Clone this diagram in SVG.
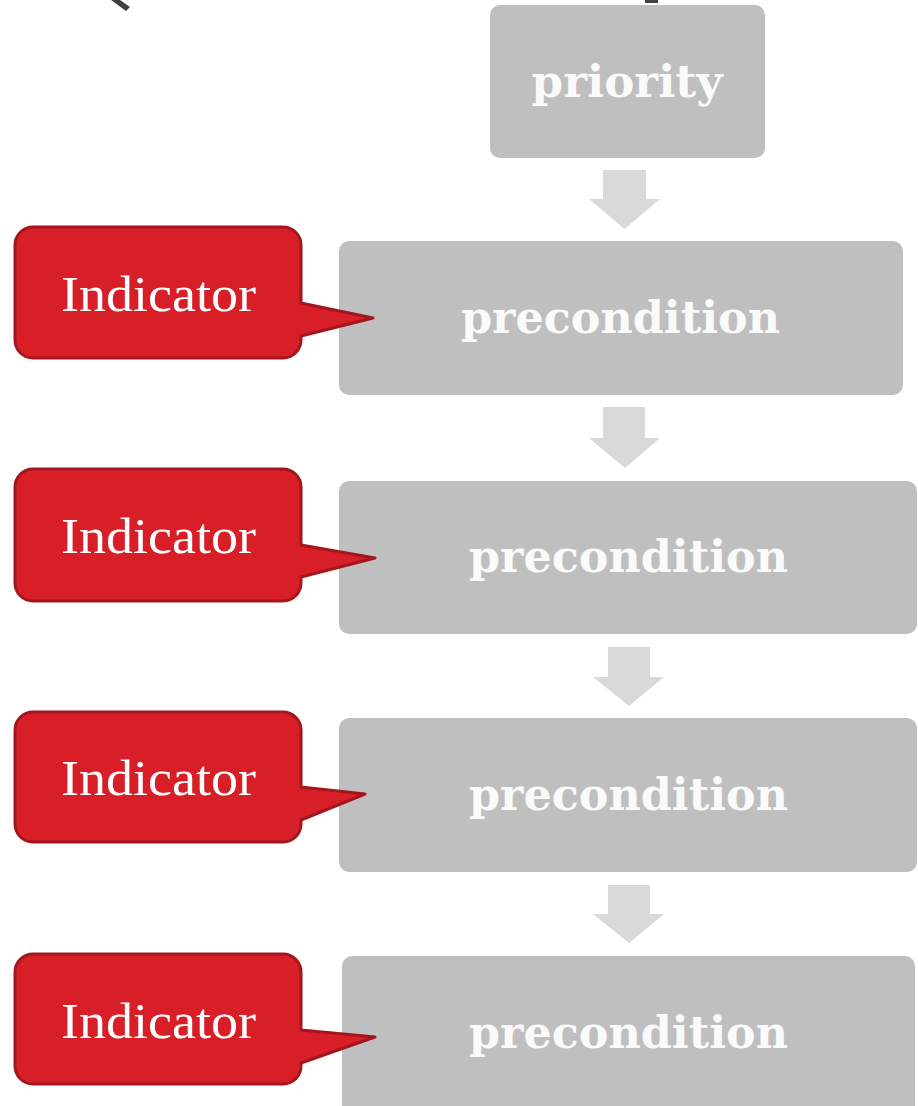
<svg xmlns="http://www.w3.org/2000/svg" width="918" height="1106" viewBox="0 0 918 1106">
  <style>
    .box { fill: #BFBFBF; }
    .arrow { fill: #D9D9D9; }
    .callout { fill: #D81F28; stroke: #A3161D; stroke-width: 3; stroke-linejoin: round; }
    .title { font-family: "DejaVu Serif", "Liberation Serif", serif; font-weight: bold; font-size: 45px; fill: #FAFAFA; text-anchor: middle; }
    .ind { font-family: "Liberation Serif", "DejaVu Serif", serif; font-size: 50px; fill: #FFFFFF; text-anchor: middle; }
    .edge { fill: #404040; }
  </style>
  <rect width="918" height="1106" fill="#FFFFFF"/>

  <!-- fragments clipped at the top edge -->
  <path class="edge" d="M111,0 L120,0 L130,7 L126,11 Z"/>
  <rect class="edge" x="645" y="0" width="13" height="3"/>

  <!-- flow arrows -->
  <g id="connectors">
    <path class="arrow" d="M603,170 L646,170 L646,199 L660,199 L624.5,229 L589,199 L603,199 Z"/>
    <path class="arrow" d="M603,407 L645,407 L645,438 L660,438 L625,468 L589,438 L603,438 Z"/>
    <path class="arrow" d="M608,647 L650,647 L650,677 L664,677 L629,706 L593,677 L608,677 Z"/>
    <path class="arrow" d="M608,885 L650,885 L650,914 L664,914 L629,943 L593,914 L608,914 Z"/>
  </g>

  <g id="priority">
    <rect class="box" x="490" y="5" width="275" height="153" rx="10"/>
    <text class="title" x="627" y="97" textLength="191" lengthAdjust="spacingAndGlyphs">priority</text>
  </g>

  <g id="precondition-1">
    <rect class="box" x="339" y="241" width="564" height="154" rx="10"/>
    <text class="title" x="620.5" y="333" textLength="319" lengthAdjust="spacingAndGlyphs">precondition</text>
  </g>
  <g id="precondition-2">
    <rect class="box" x="339" y="481" width="578" height="153" rx="10"/>
    <text class="title" x="628.5" y="572" textLength="319" lengthAdjust="spacingAndGlyphs">precondition</text>
  </g>
  <g id="precondition-3">
    <rect class="box" x="339" y="718" width="578" height="154" rx="10"/>
    <text class="title" x="628.5" y="810" textLength="319" lengthAdjust="spacingAndGlyphs">precondition</text>
  </g>
  <g id="precondition-4">
    <rect class="box" x="342" y="956" width="573" height="160" rx="10"/>
    <text class="title" x="628.5" y="1048" textLength="319" lengthAdjust="spacingAndGlyphs">precondition</text>
  </g>

  <g id="indicator-1">
    <path class="callout" d="M33,227 H283 A18,18 0 0 1 301,245 V303 L373,318 L301,336 V340 A18,18 0 0 1 283,358 H33 A18,18 0 0 1 15,340 V245 A18,18 0 0 1 33,227 Z"/>
    <text class="ind" x="158.5" y="311" textLength="195" lengthAdjust="spacingAndGlyphs">Indicator</text>
  </g>
  <g id="indicator-2">
    <path class="callout" d="M33,469 H283 A18,18 0 0 1 301,487 V545 L375,558 L301,577 V583 A18,18 0 0 1 283,601 H33 A18,18 0 0 1 15,583 V487 A18,18 0 0 1 33,469 Z"/>
    <text class="ind" x="158.5" y="553" textLength="195" lengthAdjust="spacingAndGlyphs">Indicator</text>
  </g>
  <g id="indicator-3">
    <path class="callout" d="M33,712 H283 A18,18 0 0 1 301,730 V787 L365,794 L301,820 V824 A18,18 0 0 1 283,842 H33 A18,18 0 0 1 15,824 V730 A18,18 0 0 1 33,712 Z"/>
    <text class="ind" x="158.5" y="795" textLength="195" lengthAdjust="spacingAndGlyphs">Indicator</text>
  </g>
  <g id="indicator-4">
    <path class="callout" d="M33,954 H283 A18,18 0 0 1 301,972 V1030 L375,1037 L301,1063 V1066 A18,18 0 0 1 283,1084 H33 A18,18 0 0 1 15,1066 V972 A18,18 0 0 1 33,954 Z"/>
    <text class="ind" x="158.5" y="1038" textLength="195" lengthAdjust="spacingAndGlyphs">Indicator</text>
  </g>
</svg>
